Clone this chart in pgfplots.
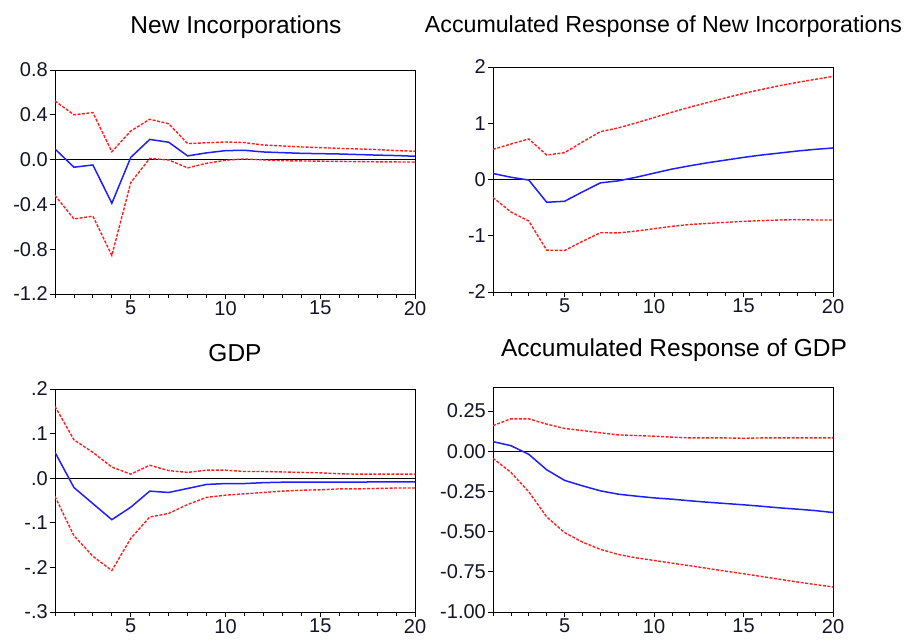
\documentclass[border=0pt]{standalone}
\usepackage{fontspec}
\setmainfont{Liberation Sans}
\usepackage{pgfplots}
\pgfplotsset{compat=1.18}

\definecolor{irfblue}{RGB}{30,30,255}
\definecolor{bandred}{RGB}{255,30,30}
\definecolor{labelink}{RGB}{20,20,40}

% Impulse responses (period, lower band, response, upper band)
\pgfplotstableread{
t  lo      resp    hi
1  -0.320  0.095   0.523
2  -0.530  -0.068  0.400
3  -0.505  -0.048  0.420
4  -0.856  -0.390  0.070
5  -0.205  0.020   0.255
6  0.010   0.180   0.360
7  -0.003  0.155   0.320
8  -0.074  0.033   0.143
9  -0.033  0.060   0.150
10 -0.006  0.080   0.157
11 0.006   0.083   0.152
12 -0.003  0.068   0.130
13 -0.010  0.062   0.122
14 -0.012  0.056   0.113
15 -0.014  0.053   0.107
16 -0.016  0.050   0.100
17 -0.018  0.045   0.095
18 -0.020  0.040   0.090
19 -0.021  0.036   0.080
20 -0.022  0.030   0.075
}\newinc

\pgfplotstableread{
t  lo      resp    hi
1  -0.320  0.107   0.536
2  -0.577  0.040   0.630
3  -0.738  -0.010  0.720
4  -1.256  -0.405  0.435
5  -1.262  -0.387  0.476
6  -1.100  -0.220  0.667
7  -0.946  -0.060  0.850
8  -0.950  -0.024  0.917
9  -0.917  0.040   1.006
10 -0.875  0.113   1.100
11 -0.833  0.185   1.196
12 -0.800  0.244   1.286
13 -0.780  0.298   1.369
14 -0.762  0.345   1.452
15 -0.744  0.393   1.530
16 -0.732  0.435   1.600
17 -0.720  0.470   1.667
18 -0.714  0.506   1.726
19 -0.720  0.536   1.780
20 -0.720  0.560   1.833
}\accnewinc

\pgfplotstableread{
t  lo      resp    hi
1  -0.041  0.058   0.161
2  -0.129  -0.021  0.086
3  -0.175  -0.057  0.058
4  -0.207  -0.093  0.025
5  -0.135  -0.065  0.009
6  -0.087  -0.029  0.029
7  -0.079  -0.032  0.017
8  -0.059  -0.023  0.013
9  -0.043  -0.014  0.018
10 -0.038  -0.012  0.018
11 -0.035  -0.012  0.015
12 -0.032  -0.010  0.015
13 -0.029  -0.009  0.014
14 -0.027  -0.009  0.013
15 -0.026  -0.009  0.012
16 -0.024  -0.009  0.010
17 -0.024  -0.009  0.009
18 -0.023  -0.008  0.009
19 -0.022  -0.008  0.009
20 -0.022  -0.008  0.009
}\gdp

\pgfplotstableread{
t  lo      resp    hi
1  -0.044  0.060   0.160
2  -0.131  0.035   0.202
3  -0.252  -0.019  0.202
4  -0.408  -0.115  0.169
5  -0.506  -0.181  0.142
6  -0.565  -0.215  0.129
7  -0.610  -0.246  0.115
8  -0.642  -0.267  0.102
9  -0.663  -0.279  0.098
10 -0.679  -0.290  0.094
11 -0.696  -0.298  0.088
12 -0.712  -0.308  0.083
13 -0.729  -0.317  0.083
14 -0.746  -0.325  0.083
15 -0.762  -0.333  0.081
16 -0.779  -0.342  0.083
17 -0.796  -0.352  0.083
18 -0.813  -0.360  0.083
19 -0.829  -0.369  0.083
20 -0.844  -0.381  0.083
}\accgdp

\pgfplotsset{
  irf/.style={
    scale only axis, anchor=south west,
    xmin=1, xmax=20,
    xtick={5,10,15,20}, xticklabels={5,10,15,20},
    minor xtick={1,...,20},
    tick align=outside, xtick pos=bottom, ytick pos=left,
    major tick length=5pt, minor tick length=4pt,
    every tick/.style={black, line width=0.8pt},
    axis line style={black, line width=0.8pt},
    tick label style={font=\fontsize{20}{23}\selectfont, text=labelink},
    yticklabel style={inner sep=2pt},
    xticklabel style={inner sep=2pt},
  },
  resp/.style={irfblue, line width=1.5pt},
  band/.style={bandred, line width=1.4pt, dash pattern=on 3pt off 1.5pt},
  zero/.style={black, line width=0.8pt, forget plot},
}

\begin{document}
\begin{tikzpicture}
\useasboundingbox (0,0) rectangle (909pt,642pt);

\begin{axis}[irf, at={(55pt,348pt)}, width=360pt, height=224pt,
  ymin=-1.2, ymax=0.8, ytick={-1.2,-0.8,-0.4,0,0.4,0.8},
  yticklabels={-1.2,-0.8,-0.4,0.0,0.4,0.8}]
  \addplot[zero] coordinates {(1,0) (20,0)};
  \addplot[band] table[x=t,y=hi] {\newinc};
  \addplot[band] table[x=t,y=lo] {\newinc};
  \addplot[resp] table[x=t,y=resp] {\newinc};
\end{axis}

\begin{axis}[irf, at={(493pt,350pt)}, width=340pt, height=225pt,
  ymin=-2, ymax=2, ytick={-2,-1,0,1,2},
  yticklabels={-2,-1,0,1,2}]
  \addplot[zero] coordinates {(1,0) (20,0)};
  \addplot[band] table[x=t,y=hi] {\accnewinc};
  \addplot[band] table[x=t,y=lo] {\accnewinc};
  \addplot[resp] table[x=t,y=resp] {\accnewinc};
\end{axis}

\begin{axis}[irf, at={(55pt,30pt)}, width=360pt, height=223pt,
  ymin=-0.3, ymax=0.2, ytick={-0.3,-0.2,-0.1,0,0.1,0.2},
  yticklabels={-.3,-.2,-.1,.0,.1,.2}]
  \addplot[zero] coordinates {(1,0) (20,0)};
  \addplot[band] table[x=t,y=hi] {\gdp};
  \addplot[band] table[x=t,y=lo] {\gdp};
  \addplot[resp] table[x=t,y=resp] {\gdp};
\end{axis}

\begin{axis}[irf, at={(493pt,30pt)}, width=340pt, height=225pt,
  ymin=-1, ymax=0.4, ytick={-1,-0.75,-0.5,-0.25,0,0.25},
  yticklabels={-1.00,-0.75,-0.50,-0.25,0.00,0.25}]
  \addplot[zero] coordinates {(1,0) (20,0)};
  \addplot[band] table[x=t,y=hi] {\accgdp};
  \addplot[band] table[x=t,y=lo] {\accgdp};
  \addplot[resp] table[x=t,y=resp] {\accgdp};
\end{axis}

% Panel titles
\node[anchor=base, font=\fontsize{24.5}{28}\selectfont] at (236pt,608pt) {New Incorporations};
\node[anchor=base, font=\fontsize{23.2}{27}\selectfont] at (663.5pt,609pt) {Accumulated Response of New Incorporations};
\node[anchor=base, font=\fontsize{24.5}{28}\selectfont] at (235pt,280.5pt) {GDP};
\node[anchor=base, font=\fontsize{24.5}{28}\selectfont] at (674pt,285.5pt) {Accumulated Response of GDP};
\end{tikzpicture}
\end{document}
